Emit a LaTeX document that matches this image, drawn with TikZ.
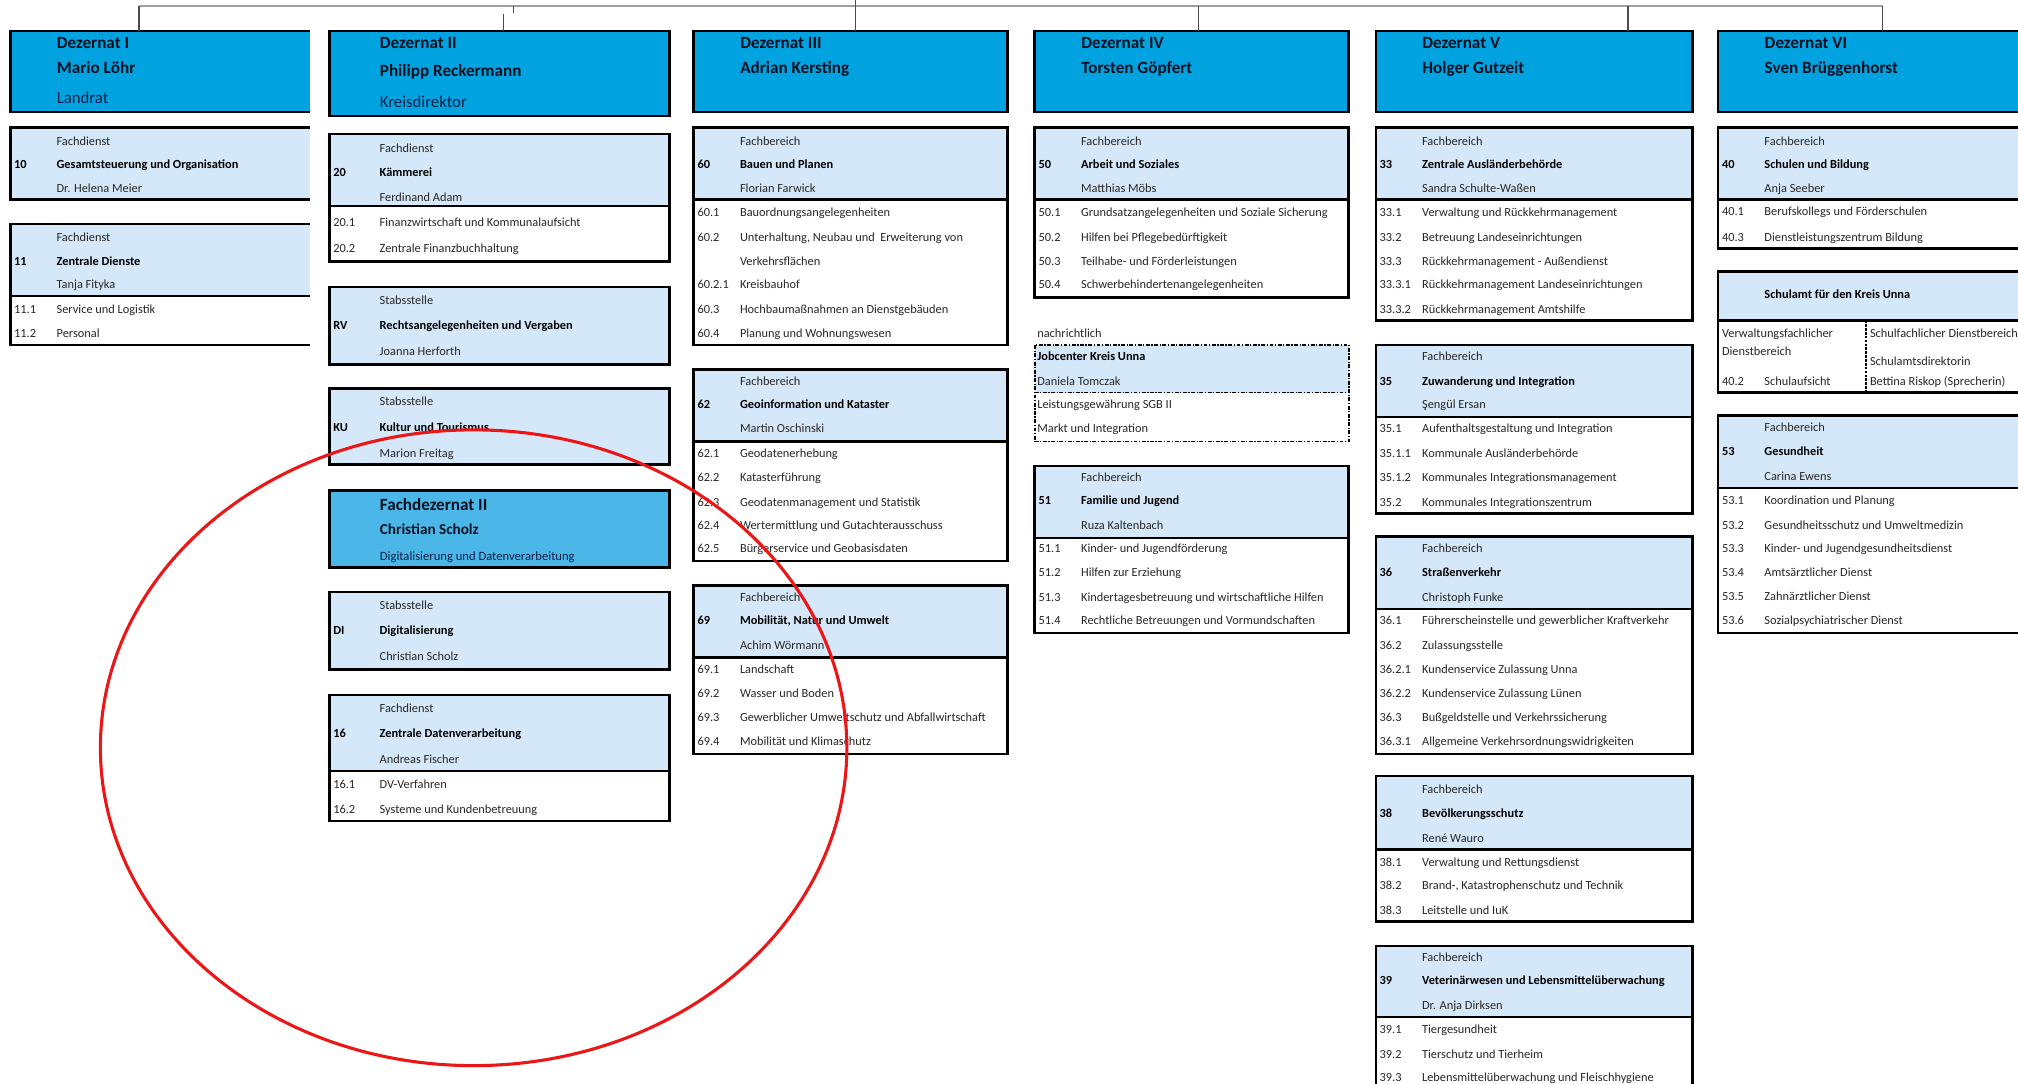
\documentclass[tikz,border=0pt]{standalone}
\usepackage{fontspec}
\setmainfont{Carlito}
\definecolor{hdr}{RGB}{0,163,224}
\definecolor{fdz}{RGB}{74,183,232}
\definecolor{lb}{RGB}{213,232,250}
\definecolor{tgray}{RGB}{40,38,36}
\definecolor{navy}{RGB}{10,16,32}
\definecolor{hsub}{RGB}{18,30,70}
\definecolor{redc}{RGB}{236,22,22}
\def\lblx{36}
\newcommand\ubox[7]{%
  \fill[#7] (#2,#4) rectangle (#3,#5);
  \draw[divl] (#2,#5) -- (#3,#5);
  \node[frame, anchor=north west, minimum width={(#3-#2)*1pt}, minimum height={(#6-#4)*1pt}] (#1) at (#2,#4) {};}
\newcommand\uboxo[7]{%
  \fill[#7] (#2,#4) rectangle (#3,#5);
  \draw[divl] (#2,#5) -- (#3,#5);
  \node[frame, draw=none, anchor=north west, minimum width={(#3-#2)*1pt}, minimum height={(#6-#4)*1pt}] (#1) at (#2,#4) {};
  \draw[frameline] (#1.north east) -- (#1.north west) -- (#1.south west) -- (#1.south east);}
\newcommand\rw[5]{\node[tx] (#1n) at (#2+3,#3+3.3) {#4};\node[tx] (#1) at (#2+\lblx,#3+3.3) {#5};}
\newcommand\rwb[5]{\node[txb] (#1n) at (#2+3,#3+3.3) {#4};\node[txb] (#1) at (#2+\lblx,#3+3.3) {#5};}
\newcommand\lrow[4]{\node[tx] (#1) at (#2+\lblx,#3+3.3) {#4};}
\newcommand\hrow[5]{\node[#5] (#1) at (#2+\lblx,#3+4.5) {#4};}
\begin{document}
\begin{tikzpicture}[x=1pt,y=-1pt,
  frame/.style={draw=black, line width=2pt, inner sep=0pt, outer sep=0pt},
  frameline/.style={draw=black, line width=2pt},
  divl/.style={draw=black, line width=1.8pt},
  tx/.style={anchor=base west, inner sep=0pt, outer sep=0pt, font=\fontsize{9.6}{11}\selectfont, text=tgray},
  txb/.style={tx, font=\fontsize{9.6}{11}\selectfont\bfseries, text=black},
  hd/.style={anchor=base west, inner sep=0pt, font=\fontsize{13.3}{15}\selectfont\bfseries, text=navy},
  hs/.style={anchor=base west, inner sep=0pt, font=\fontsize{13}{15}\selectfont, text=hsub},
  fd1/.style={anchor=base west, inner sep=0pt, font=\fontsize{13.3}{15}\selectfont\bfseries, text=navy},
  fd2/.style={anchor=base west, inner sep=0pt, font=\fontsize{11.8}{14}\selectfont\bfseries, text=navy},
  fd3/.style={anchor=base west, inner sep=0pt, font=\fontsize{9.8}{12}\selectfont, text=hsub},
  bus/.style={draw=gray!75, line width=1.6pt},
  drop/.style={draw=black!70, line width=0.9pt},
  jc/.style={draw=black, line width=1.4pt, dash pattern=on 3pt off 1.2pt on 1pt off 1.2pt},
]
\useasboundingbox (0,0) rectangle (1568,842);

% ---------------- Column I
\uboxo{dz1}{8}{241}{24}{87}{87}{hdr}
\hrow{dz1a}{8}{33}{Dezernat I}{hd}
\hrow{dz1b}{8}{53}{Mario Löhr}{hd}
\hrow{dz1c}{8}{76}{Landrat}{hs}

\uboxo{u10}{8}{241}{99}{155}{155}{lb}
\lrow{u10a}{8}{110}{Fachdienst}
\rwb{u10b}{8}{128}{10}{Gesamtsteuerung und Organisation}
\lrow{u10c}{8}{146}{Dr. Helena Meier}

\uboxo{u11}{8}{241}{174}{230}{268}{lb}
\lrow{u11a}{8}{184}{Fachdienst}
\rwb{u11b}{8}{203}{11}{Zentrale Dienste}
\lrow{u11c}{8}{221}{Tanja Fityka}
\rw{u11d}{8}{240}{11.1}{Service und Logistik}
\rw{u11e}{8}{259}{11.2}{Personal}

% ---------------- Column II
\def\lblx{39}
\ubox{dz2}{256}{520}{24}{90}{90}{hdr}
\hrow{dz2a}{256}{33}{Dezernat II}{hd}
\hrow{dz2b}{256}{55}{Philipp Reckermann}{hd}
\hrow{dz2c}{256}{79}{Kreisdirektor}{hs}

\ubox{u20}{256}{520}{104}{160}{203}{lb}
\lrow{u20a}{256}{115}{Fachdienst}
\rwb{u20b}{256}{134}{20}{Kämmerei}
\lrow{u20c}{256}{153}{Ferdinand Adam}
\rw{u20d}{256}{173}{20.1}{Finanzwirtschaft und Kommunalaufsicht}
\rw{u20e}{256}{193}{20.2}{Zentrale Finanzbuchhaltung}

\ubox{uRV}{256}{520}{223}{283}{283}{lb}
\lrow{uRVa}{256}{233}{Stabsstelle}
\rwb{uRVb}{256}{253}{RV}{Rechtsangelegenheiten und Vergaben}
\lrow{uRVc}{256}{273}{Joanna Herforth}

\ubox{uKU}{256}{520}{302}{361}{361}{lb}
\lrow{uKUa}{256}{312}{Stabsstelle}
\rwb{uKUb}{256}{332}{KU}{Kultur und Tourismus}
\lrow{uKUc}{256}{352}{Marion Freitag}

\ubox{fdz2}{256}{520}{381}{441}{441}{fdz}
\hrow{fdz2a}{256}{392}{Fachdezernat II}{fd1}
\hrow{fdz2b}{256}{411}{Christian Scholz}{fd2}
\hrow{fdz2c}{256}{431}{Digitalisierung und Datenverarbeitung}{fd3}

\ubox{uDI}{256}{520}{460}{520}{520}{lb}
\lrow{uDIa}{256}{470}{Stabsstelle}
\rwb{uDIb}{256}{490}{DI}{Digitalisierung}
\lrow{uDIc}{256}{510}{Christian Scholz}

\ubox{u16}{256}{520}{540}{599}{638}{lb}
\lrow{u16a}{256}{550}{Fachdienst}
\rwb{u16b}{256}{570}{16}{Zentrale Datenverarbeitung}
\lrow{u16c}{256}{590}{Andreas Fischer}
\rw{u16d}{256}{609}{16.1}{DV-Verfahren}
\rw{u16e}{256}{629}{16.2}{Systeme und Kundenbetreuung}

% ---------------- Column III
\def\lblx{36}
\ubox{dz3}{539}{783}{24}{87}{87}{hdr}
\hrow{dz3a}{539}{33}{Dezernat III}{hd}
\hrow{dz3b}{539}{53}{Adrian Kersting}{hd}

\ubox{u60}{539}{783}{99}{155}{268}{lb}
\lrow{u60a}{539}{110}{Fachbereich}
\rwb{u60b}{539}{128}{60}{Bauen und Planen}
\lrow{u60c}{539}{146}{Florian Farwick}
\rw{u60d}{539}{165}{60.1}{Bauordnungsangelegenheiten}
\rw{u60e}{539}{184}{60.2}{Unterhaltung, Neubau und\ \ Erweiterung von}
\lrow{u60f}{539}{203}{Verkehrsflächen}
\rw{u60g}{539}{221}{60.2.1}{Kreisbauhof}
\rw{u60h}{539}{240}{60.3}{Hochbaumaßnahmen an Dienstgebäuden}
\rw{u60i}{539}{259}{60.4}{Planung und Wohnungswesen}

\ubox{u62}{539}{783}{287}{343}{436}{lb}
\lrow{u62a}{539}{296}{Fachbereich}
\rwb{u62b}{539}{314}{62}{Geoinformation und Kataster}
\lrow{u62c}{539}{333}{Martin Oschinski}
\rw{u62d}{539}{352}{62.1}{Geodatenerhebung}
\rw{u62e}{539}{371}{62.2}{Katasterführung}
\rw{u62f}{539}{390}{62.3}{Geodatenmanagement und Statistik}
\rw{u62g}{539}{408}{62.4}{Wertermittlung und Gutachterausschuss}
\rw{u62h}{539}{426}{62.5}{Bürgerservice und Geobasisdaten}

\ubox{u69}{539}{783}{455}{511}{586}{lb}
\lrow{u69a}{539}{464}{Fachbereich}
\rwb{u69b}{539}{482}{69}{Mobilität, Natur und Umwelt}
\lrow{u69c}{539}{501}{Achim Wörmann}
\rw{u69d}{539}{520}{69.1}{Landschaft}
\rw{u69e}{539}{539}{69.2}{Wasser und Boden}
\rw{u69f}{539}{557}{69.3}{Gewerblicher Umweltschutz und Abfallwirtschaft}
\rw{u69g}{539}{576}{69.4}{Mobilität und Klimaschutz}

% ---------------- Column IV
\ubox{dz4}{804}{1048}{24}{87}{87}{hdr}
\hrow{dz4a}{804}{33}{Dezernat IV}{hd}
\hrow{dz4b}{804}{53}{Torsten Göpfert}{hd}

\ubox{u50}{804}{1048}{99}{155}{231}{lb}
\lrow{u50a}{804}{110}{Fachbereich}
\rwb{u50b}{804}{128}{50}{Arbeit und Soziales}
\lrow{u50c}{804}{146}{Matthias Möbs}
\rw{u50d}{804}{165}{50.1}{Grundsatzangelegenheiten und Soziale Sicherung}
\rw{u50e}{804}{184}{50.2}{Hilfen bei Pflegebedürftigkeit}
\rw{u50f}{804}{203}{50.3}{Teilhabe- und Förderleistungen}
\rw{u50g}{804}{221}{50.4}{Schwerbehindertenangelegenheiten}

\node[tx] (nachr) at (806,262.3) {nachrichtlich};
\fill[lb] (804,268) rectangle (1048,305);
\draw[jc] (804,305) -- (1048,305);
\node[jc, inner sep=0pt, outer sep=0pt, anchor=north west, minimum width=244pt, minimum height=75pt] (jobc) at (804,268) {};
\node[txb] (jca) at (806,280.3) {Jobcenter Kreis Unna};
\node[tx] (jcb) at (806,299.3) {Daniela Tomczak};
\node[tx] (jcc) at (806,317.3) {Leistungsgewährung SGB II};
\node[tx] (jcd) at (806,336.3) {Markt und Integration};

\ubox{u51}{804}{1048}{362}{418}{492}{lb}
\lrow{u51a}{804}{371}{Fachbereich}
\rwb{u51b}{804}{389}{51}{Familie und Jugend}
\lrow{u51c}{804}{408}{Ruza Kaltenbach}
\rw{u51d}{804}{426}{51.1}{Kinder- und Jugendförderung}
\rw{u51e}{804}{445}{51.2}{Hilfen zur Erziehung}
\rw{u51f}{804}{464}{51.3}{Kindertagesbetreuung und wirtschaftliche Hilfen}
\rw{u51g}{804}{482}{51.4}{Rechtliche Betreuungen und Vormundschaften}

% ---------------- Column V
\ubox{dz5}{1069}{1315}{24}{87}{87}{hdr}
\hrow{dz5a}{1069}{33}{Dezernat V}{hd}
\hrow{dz5b}{1069}{53}{Holger Gutzeit}{hd}

\ubox{u33}{1069}{1315}{99}{155}{249}{lb}
\lrow{u33a}{1069}{110}{Fachbereich}
\rwb{u33b}{1069}{128}{33}{Zentrale Ausländerbehörde}
\lrow{u33c}{1069}{146}{Sandra Schulte-Waßen}
\rw{u33d}{1069}{165}{33.1}{Verwaltung und Rückkehrmanagement}
\rw{u33e}{1069}{184}{33.2}{Betreuung Landeseinrichtungen}
\rw{u33f}{1069}{203}{33.3}{Rückkehrmanagement - Außendienst}
\rw{u33g}{1069}{221}{33.3.1}{Rückkehrmanagement Landeseinrichtungen}
\rw{u33h}{1069}{240}{33.3.2}{Rückkehrmanagement Amtshilfe}

\ubox{u35}{1069}{1315}{268}{324}{399}{lb}
\lrow{u35a}{1069}{277}{Fachbereich}
\rwb{u35b}{1069}{296}{35}{Zuwanderung und Integration}
\lrow{u35c}{1069}{314}{Şengül Ersan}
\rw{u35d}{1069}{333}{35.1}{Aufenthaltsgestaltung und Integration}
\rw{u35e}{1069}{352}{35.1.1}{Kommunale Ausländerbehörde}
\rw{u35f}{1069}{371}{35.1.2}{Kommunales Integrationsmanagement}
\rw{u35g}{1069}{390}{35.2}{Kommunales Integrationszentrum}

\ubox{u36}{1069}{1315}{417}{473}{586}{lb}
\lrow{u36a}{1069}{426}{Fachbereich}
\rwb{u36b}{1069}{445}{36}{Straßenverkehr}
\lrow{u36c}{1069}{464}{Christoph Funke}
\rw{u36d}{1069}{482}{36.1}{Führerscheinstelle und gewerblicher Kraftverkehr}
\rw{u36e}{1069}{501}{36.2}{Zulassungsstelle}
\rw{u36f}{1069}{520}{36.2.1}{Kundenservice Zulassung Unna}
\rw{u36g}{1069}{539}{36.2.2}{Kundenservice Zulassung Lünen}
\rw{u36h}{1069}{557}{36.3}{Bußgeldstelle und Verkehrssicherung}
\rw{u36i}{1069}{576}{36.3.1}{Allgemeine Verkehrsordnungswidrigkeiten}

\ubox{u38}{1069}{1315}{603}{660}{716}{lb}
\lrow{u38a}{1069}{613}{Fachbereich}
\rwb{u38b}{1069}{632}{38}{Bevölkerungsschutz}
\lrow{u38c}{1069}{651}{René Wauro}
\rw{u38d}{1069}{670}{38.1}{Verwaltung und Rettungsdienst}
\rw{u38e}{1069}{688}{38.2}{Brand-, Katastrophenschutz und Technik}
\rw{u38f}{1069}{707}{38.3}{Leitstelle und IuK}

\ubox{u39}{1069}{1315}{735}{790}{852}{lb}
\lrow{u39a}{1069}{744}{Fachbereich}
\rwb{u39b}{1069}{762}{39}{Veterinärwesen und Lebensmittelüberwachung}
\lrow{u39c}{1069}{781}{Dr. Anja Dirksen}
\rw{u39d}{1069}{800}{39.1}{Tiergesundheit}
\rw{u39e}{1069}{819}{39.2}{Tierschutz und Tierheim}
\rw{u39f}{1069}{837}{39.3}{Lebensmittelüberwachung und Fleischhygiene}

% ---------------- Column VI
\ubox{dz6}{1335}{1580}{24}{87}{87}{hdr}
\hrow{dz6a}{1335}{33}{Dezernat VI}{hd}
\hrow{dz6b}{1335}{53}{Sven Brüggenhorst}{hd}

\ubox{u40}{1335}{1580}{99}{155}{193}{lb}
\lrow{u40a}{1335}{110}{Fachbereich}
\rwb{u40b}{1335}{128}{40}{Schulen und Bildung}
\lrow{u40c}{1335}{146}{Anja Seeber}
\rw{u40d}{1335}{164}{40.1}{Berufskollegs und Förderschulen}
\rw{u40e}{1335}{184}{40.3}{Dienstleistungszentrum Bildung}

\ubox{usa}{1335}{1580}{211}{249}{305}{lb}
\node[txb] (usaa) at (1371,232.3) {Schulamt für den Kreis Unna};
\coordinate (sadt) at (1450,249);
\coordinate (sadb) at (1450,305);
\draw[black, line width=1.6pt, dash pattern=on 2pt off 1pt] (sadt) -- (sadb);
\node[tx] (usab) at (1338,262.3) {Verwaltungsfachlicher};
\node[tx] (usac) at (1338,276.3) {Dienstbereich};
\node[tx] (usadn) at (1338,299.3) {40.2};
\node[tx] (usad) at (1371,299.3) {Schulaufsicht};
\node[tx] (usae) at (1453,262.3) {Schulfachlicher Dienstbereich};
\node[tx] (usaf) at (1453,284.3) {Schulamtsdirektorin};
\node[tx] (usag) at (1453,299.3) {Bettina Riskop (Sprecherin)};

\ubox{u53}{1335}{1580}{323}{379}{492}{lb}
\lrow{u53a}{1335}{332}{Fachbereich}
\rwb{u53b}{1335}{351}{53}{Gesundheit}
\lrow{u53c}{1335}{370}{Carina Ewens}
\rw{u53d}{1335}{389}{53.1}{Koordination und Planung}
\rw{u53e}{1335}{408}{53.2}{Gesundheitsschutz und Umweltmedizin}
\rw{u53f}{1335}{426}{53.3}{Kinder- und Jugendgesundheitsdienst}
\rw{u53g}{1335}{445}{53.4}{Amtsärztlicher Dienst}
\rw{u53h}{1335}{463}{53.5}{Zahnärztlicher Dienst}
\rw{u53i}{1335}{482}{53.6}{Sozialpsychiatrischer Dienst}

% ---------------- connectors
\coordinate (btop) at (665,-2);
\coordinate (bl) at (108,5);
\coordinate (br) at (1463,5);
\coordinate (b2t) at (399,5);
\coordinate (b2s) at (399,10);
\coordinate (b2) at (391,11);
\coordinate (b3) at (665,5);
\coordinate (b4) at (931,5);
\coordinate (b5) at (1265,5);
\draw[bus] (bl) -- (br);
\draw[drop] (btop) -- (b3 |- dz3.north);
\draw[drop] (bl) -- (bl |- dz1.north);
\draw[drop] (b2t) -- (b2s);
\draw[drop] (b2) -- (b2 |- dz2.north);
\draw[drop] (b4) -- (b4 |- dz4.north);
\draw[drop] (b5) -- (b5 |- dz5.north);
\draw[drop] (br) -- (br |- dz6.north);

% ---------------- red hand-drawn ellipse
\draw[redc, line width=2.4pt] (368,581) ellipse [x radius=290pt, y radius=247pt];
\end{tikzpicture}
\end{document}
